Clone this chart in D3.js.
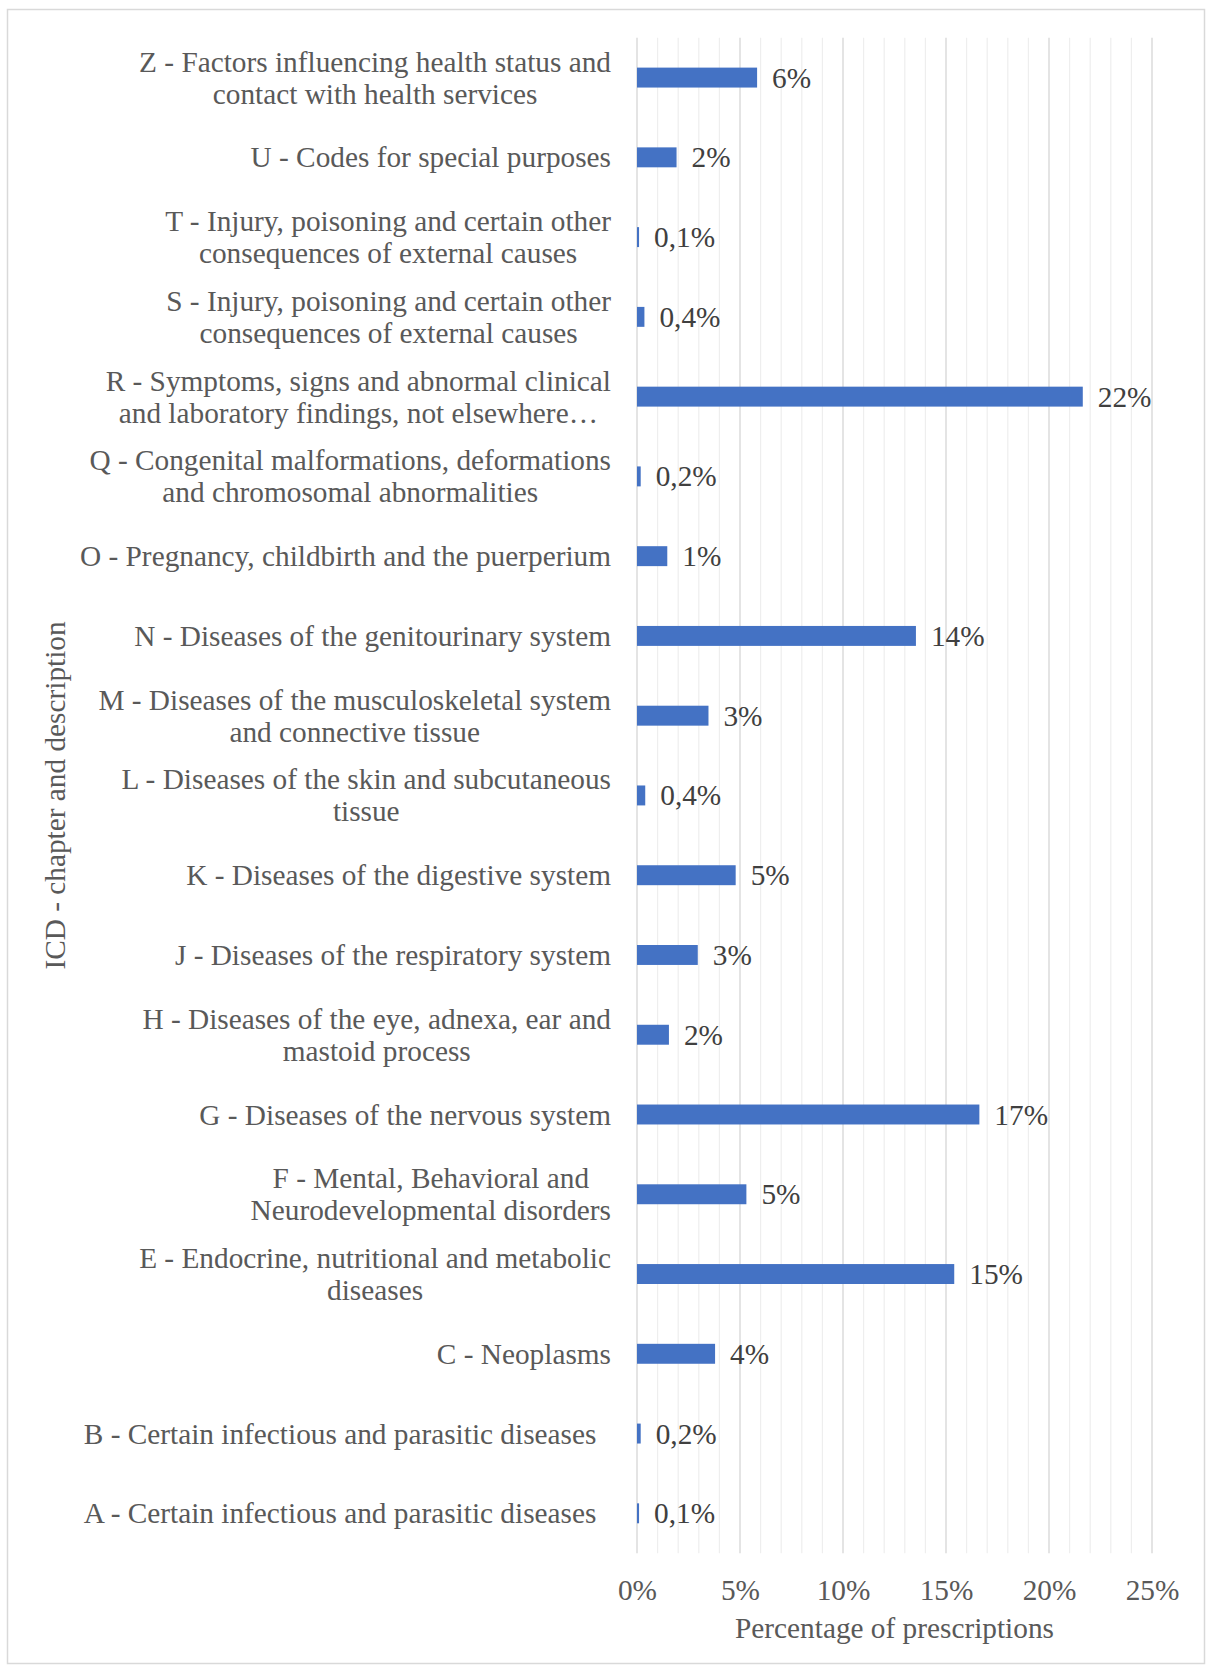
<!DOCTYPE html>
<html>
<head>
<meta charset="utf-8">
<script src="https://cdn.jsdelivr.net/npm/d3@7"></script>
<style>
  html, body { margin: 0; padding: 0; background: #ffffff; }
  svg { display: block; }
  text { font-family: "Liberation Serif", "Times New Roman", serif; }
</style>
</head>
<body>
<svg id="chart" width="1208" height="1667"></svg>
<script>
// ICD chapters, listed top to bottom ("\n" marks a line break in the label)
const categories = [
  "Z - Factors influencing health status and\ncontact with health services",
  "U - Codes for special purposes",
  "T - Injury, poisoning and certain other\nconsequences of external causes",
  "S - Injury, poisoning and certain other\nconsequences of external causes",
  "R - Symptoms, signs and abnormal clinical\nand laboratory findings, not elsewhere…",
  "Q - Congenital malformations, deformations\nand chromosomal abnormalities",
  "O - Pregnancy, childbirth and the puerperium",
  "N - Diseases of the genitourinary system",
  "M - Diseases of the musculoskeletal system\nand connective tissue",
  "L - Diseases of the skin and subcutaneous\ntissue",
  "K - Diseases of the digestive system",
  "J - Diseases of the respiratory system",
  "H - Diseases of the eye, adnexa, ear and\nmastoid process",
  "G - Diseases of the nervous system",
  "F - Mental, Behavioral and\nNeurodevelopmental disorders",
  "E - Endocrine, nutritional and metabolic\ndiseases",
  "C - Neoplasms",
  "B - Certain infectious and parasitic diseases\u00a0\u00a0",
  "A - Certain infectious and parasitic diseases\u00a0\u00a0"
];

// Share of prescriptions (%) per chapter, same order
const values = [5.83, 1.92, 0.1, 0.36, 21.64, 0.18, 1.47, 13.54, 3.47, 0.4,
                4.79, 2.95, 1.55, 16.62, 5.31, 15.40, 3.79, 0.18, 0.1];

// Axis ticks (%)
const xTicks = [0, 5, 10, 15, 20, 25];

const rows = categories.map((c, i) => ({ id: i, label: c, value: values[i] }));

const FS = 29.3;
const svg = d3.select("#chart");

// outer frame
svg.append("rect")
  .attr("x", 7.5).attr("y", 9.5)
  .attr("width", 1197).attr("height", 1654)
  .attr("fill", "#ffffff")
  .attr("stroke", "#d9d9d9").attr("stroke-width", 1.5);

const plot = { left: 637, right: 1152, top: 37.7, bottom: 1553.2 };

const x = d3.scaleLinear().domain([0, 25]).range([plot.left, plot.right]);
const y = d3.scaleBand()
  .domain(rows.map(d => d.id))
  .range([plot.top, plot.bottom])
  .paddingInner(0.75)
  .paddingOuter(0.375);

// vertical gridlines: minor every 1 %, major every 5 %
const grid = svg.append("g");
grid.selectAll("line.minor")
  .data(d3.range(0, 26, 1).filter(v => v % 5 !== 0))
  .join("line")
  .attr("class", "minor")
  .attr("x1", d => x(d)).attr("x2", d => x(d))
  .attr("y1", plot.top).attr("y2", plot.bottom)
  .attr("stroke", "#eeeeee").attr("stroke-width", 1.2);
grid.selectAll("line.major")
  .data(xTicks)
  .join("line")
  .attr("class", "major")
  .attr("x1", d => x(d)).attr("x2", d => x(d))
  .attr("y1", plot.top).attr("y2", plot.bottom)
  .attr("stroke", "#d9d9d9").attr("stroke-width", 1.4);

// bars
svg.append("g").selectAll("rect")
  .data(rows)
  .join("rect")
  .attr("x", x(0))
  .attr("y", d => y(d.id))
  .attr("width", d => x(d.value) - x(0))
  .attr("height", y.bandwidth())
  .attr("fill", "#4472c4");

// value labels
const fmt = v => v < 1 ? v.toFixed(1).replace(".", ",") + "%" : Math.round(v) + "%";
svg.append("g").selectAll("text")
  .data(rows)
  .join("text")
  .attr("x", d => x(d.value) + 15)
  .attr("y", d => y(d.id) + y.bandwidth() / 2 + 10)
  .attr("font-size", FS)
  .attr("fill", "#404040")
  .text(d => fmt(d.value));

// bottom axis (labels only)
const xAxis = svg.append("g")
  .attr("transform", `translate(0,${plot.bottom})`)
  .call(d3.axisBottom(x).tickValues(xTicks).tickFormat(d => d + "%").tickSize(0).tickPadding(26));
xAxis.select(".domain").remove();
xAxis.selectAll("text")
  .attr("font-size", FS)
  .attr("fill", "#595959")
  .style("font-family", '"Liberation Serif", "Times New Roman", serif');

// left axis: multi-line category labels, lines centred within a right-aligned block
const yAxis = svg.append("g")
  .attr("transform", `translate(${plot.left},0)`)
  .call(d3.axisLeft(y).tickSize(0).tickFormat(""));
yAxis.select(".domain").remove();
yAxis.selectAll(".tick").each(function (id) {
  const g = d3.select(this);
  g.select("text").remove();
  const lines = rows[id].label.split("\n");
  const t = g.append("text")
    .attr("font-size", FS)
    .attr("fill", "#595959")
    .attr("text-anchor", "middle");
  const lh = 32;
  const spans = lines.map((ln, k) =>
    t.append("tspan")
      .attr("y", (k - (lines.length - 1) / 2) * lh + 10)
      .text(ln));
  const w = d3.max(spans, s => s.node().getComputedTextLength());
  spans.forEach(s => s.attr("x", -26 - w / 2));
});

// axis titles
svg.append("text")
  .attr("x", (plot.left + plot.right) / 2)
  .attr("y", 1638)
  .attr("text-anchor", "middle")
  .attr("font-size", FS)
  .attr("fill", "#595959")
  .text("Percentage of prescriptions");

svg.append("text")
  .attr("transform", `translate(65,${(plot.top + plot.bottom) / 2}) rotate(-90)`)
  .attr("text-anchor", "middle")
  .attr("font-size", FS)
  .attr("fill", "#595959")
  .text("ICD - chapter and description");
</script>
</body>
</html>
